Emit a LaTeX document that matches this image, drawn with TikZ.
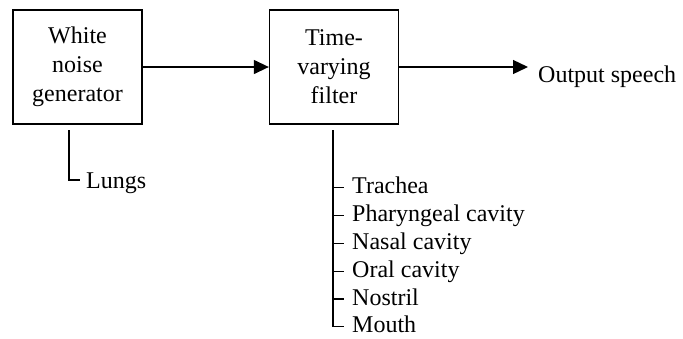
\documentclass[tikz,border=0pt]{standalone}
\usepackage{fontspec}
\setmainfont{Liberation Serif}
\usetikzlibrary{arrows.meta}
\begin{document}
\begin{tikzpicture}[x=1bp,y=-1bp,
  block/.style={draw,line width=1.3bp,minimum width=129bp,minimum height=114bp,
    align=center,inner sep=0pt,font=\fontsize{24bp}{29bp}\selectfont},
  lbl/.style={anchor=base west,inner sep=0pt,font=\fontsize{24bp}{28bp}\selectfont},
  wire/.style={line width=1.3bp},
  flow/.style={line width=1.3bp,-{Triangle[length=15bp,width=14bp]}}]
\useasboundingbox (0,0) rectangle (683,338);

% processing blocks
\node[block] (gen) at (77.5,67) {White\\noise\\generator};
\node[block] (flt) at (334,67) {Time-\\varying\\filter};
\node[lbl] (out) at (538,82) {Output speech};
\coordinate (outend) at (528,67);

\draw[flow] (gen.east) -- (flt.west);
\draw[flow] (flt.east) -- (outend);

% source organ
\node[lbl] (lungs) at (86,188) {Lungs};
\coordinate (lt) at (69,130);
\coordinate (lc) at (69,180);
\coordinate (le) at (80,180);
\draw[wire] (lt) -- (lc) -- (le);

% vocal tract organs
\coordinate (ft) at (333,130);
\foreach \name/\txt [count=\i] in {tra/Trachea,pha/Pharyngeal cavity,nas/Nasal cavity,ora/Oral cavity,nos/Nostril,mou/Mouth}{
  \node[lbl] (\name) at (352,166+27.8*\i) {\txt};
  \coordinate (t\name) at (333,160+27.8*\i);
  \coordinate (e\name) at (344,160+27.8*\i);
}
\draw[wire] (ft) -- (tmou) -- (emou);
\foreach \name in {tra,pha,nas,ora,nos}
  \draw[wire] (t\name) -- (e\name);
\end{tikzpicture}
\end{document}
